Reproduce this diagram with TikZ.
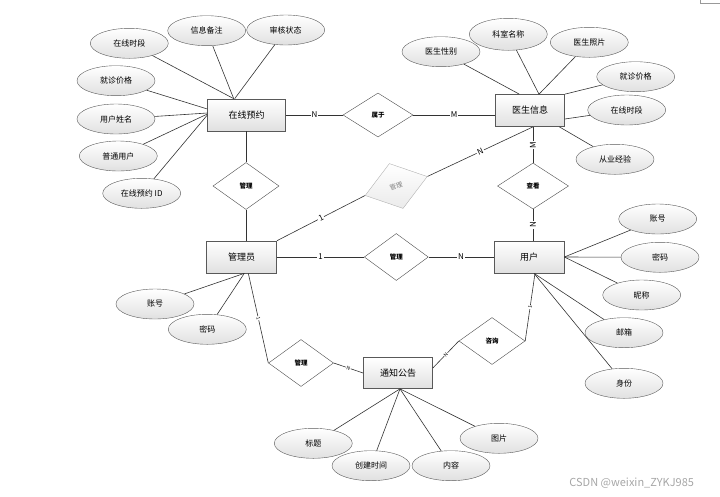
\documentclass[tikz,border=0pt]{standalone}
\usepackage{fontspec}
\setmainfont{Noto Sans CJK SC}
\usetikzlibrary{shapes.geometric}

\begin{document}
\begin{tikzpicture}[x=1pt, y=-1pt,
	every node/.style={font=\fontsize{8}{9}\selectfont},
	entity/.style={draw=black!65, line width=0.7pt, top color=white, bottom color=black!12, minimum width=70, minimum height=32, inner sep=0pt, font=\fontsize{9}{10}\selectfont},
	attr/.style={ellipse, draw=black!65, top color=white, bottom color=black!12, minimum width=78, minimum height=30, inner sep=0pt},
	rel/.style={diamond, draw=black!70, fill=white, minimum width=66, minimum height=47, inner sep=0pt, font=\fontsize{6.5}{7}\bfseries\selectfont},
	card/.style={fill=white, inner sep=1pt, font=\fontsize{8}{8}\selectfont},
	tcard/.style={fill=white, inner sep=0.5pt, font=\fontsize{5}{5}\selectfont},
	link/.style={draw=black!80, line width=0.6pt}]
	\useasboundingbox (0,0) rectangle (720,496);

	% entities
	\node[entity, minimum width=78] (yy) at (246.7,115) {在线预约};
	\node[entity, minimum width=69] (ys) at (530,110.5) {医生信息};
	\node[entity] (gly) at (241.7,257) {管理员};
	\node[entity] (yh) at (529,257) {用户};
	\node[entity, minimum width=69, minimum height=31] (tz) at (398,373) {通知公告};

	% relations
	\node[rel, minimum width=70, minimum height=44] (sy) at (378,115) {属于};
	\node[rel] (gl1) at (246,186) {管理};
	\node[rel, rotate=17, draw=black!30, top color=white, bottom color=black!8, text=black!50, font=\fontsize{6.5}{7}\selectfont, minimum width=65] (gl3) at (396.2,186) {管理};
	\node[rel, minimum width=64] (gl2) at (396.3,257) {管理};
	\node[rel, minimum width=71, minimum height=46] (ck) at (533,186) {查看};
	\node[rel, minimum width=65] (gl4) at (301,363) {管理};
	\node[rel] (zx) at (492,341) {咨询};

	% attributes
	\node[attr] (a1) at (129.3,43.3) {在线时段};
	\node[attr] (a2) at (206.7,30.7) {信息备注};
	\node[attr] (a3) at (285.7,30) {审核状态};
	\node[attr] (a4) at (116,80.7) {就诊价格};
	\node[attr] (a5) at (116,119) {用户姓名};
	\node[attr] (a6) at (118.3,156) {普通用户};
	\node[attr] (a7) at (141.7,193.3) {在线预约 ID};

	\node[attr] (b1) at (441,51.7) {医生性别};
	\node[attr, minimum height=32] (b2) at (508.3,34.3) {科室名称};
	\node[attr] (b3) at (589.3,42.3) {医生照片};
	\node[attr] (b4) at (635.7,76.7) {就诊价格};
	\node[attr] (b5) at (626.7,110) {在线时段};
	\node[attr] (b6) at (615,159.3) {从业经验};

	\node[attr] (c1) at (155,304) {账号};
	\node[attr] (c2) at (207.3,329.3) {密码};

	\node[attr] (d1) at (657.7,219) {账号};
	\node[attr] (d2) at (660,257.3) {密码};
	\node[attr] (d3) at (641.7,295) {昵称};
	\node[attr] (d4) at (624,332.7) {邮箱};
	\node[attr] (d5) at (624,383.3) {身份};

	\node[attr] (e1) at (313.3,443.3) {标题};
	\node[attr] (e2) at (371,465.7) {创建时间};
	\node[attr] (e3) at (451,465.7) {内容};
	\node[attr] (e4) at (499,438.3) {图片};

	% attribute lines
	\draw[link] (a1) -- ([xshift=-13pt]yy.north);
	\draw[link] (a2) -- ([xshift=-13pt]yy.north);
	\draw[link] (a3) -- ([xshift=-12pt]yy.north);
	\draw[link] (a4) -- ([yshift=6pt]yy.west);
	\draw[link] (a5) -- ([yshift=2pt]yy.west);
	\draw[link] (a6) -- ([yshift=1pt]yy.west);
	\draw[link] (a7) -- (yy.west);

	\draw[link] (b1) -- ([xshift=-10.7pt]ys.north);
	\draw[link] (b2) -- ([xshift=9pt]ys.north);
	\draw[link] (b3) -- ([xshift=9pt]ys.north);
	\draw[link] (b4) -- (ys.north east);
	\draw[link] (b5) -- ([yshift=-8.5pt]ys.east);
	\draw[link] (b6) -- ([xshift=-5.5pt]ys.south east);

	\draw[link] (c1) -- ([xshift=2.6pt]gly.south);
	\draw[link] (c2) -- ([xshift=2.6pt]gly.south);

	\draw[link] (d1) -- (yh.east);
	\draw[link] (d2) -- (yh.east);
	\draw[link] (d3) -- (yh.east);
	\draw[link] (d4) -- ([xshift=5pt]yh.south);
	\draw[link] (d5) -- ([xshift=5pt]yh.south);

	\draw[link] (e1) -- ([xshift=2pt]tz.south);
	\draw[link] (e2) -- ([xshift=2pt]tz.south);
	\draw[link] (e3) -- ([xshift=2pt]tz.south);
	\draw[link] (e4) -- ([xshift=2pt]tz.south);

	% relation lines
	\draw[link] (yy) -- (sy) node[card, midway] {N};
	\draw[link] (sy.east) -- (sy.east -| ys.west) node[card, midway] {M};
	\draw[link] (gl1.north) -- (gl1.north |- yy.south);
	\draw[link] (gl1.south) -- (gl1.south |- gly.north);
	\draw[link] (gly) -- (gl2) node[card, midway] {1};
	\draw[link] (gl2) -- (yh) node[card, midway] {N};
	\draw[link] (gly.north east) -- (gl3.west) node[card, midway, sloped] {1};
	\draw[link] (gl3.east) -- ([xshift=3pt]ys.south) node[card, midway, sloped] {N};
	\draw[link] (ck.north) -- (ck.north |- ys.south) node[card, midway, rotate=90] {M};
	\draw[link] (ck.south) -- (ck.south |- yh.north) node[card, midway, rotate=90] {N};
	\draw[link] ([xshift=6.6pt]gly.south) -- (gl4.west) node[tcard, midway, sloped] {1};
	\draw[link] (gl4.east) -- (tz.west) node[tcard, midway, sloped] {N};
	\draw[link] ([yshift=5pt]tz.east) -- (zx.west) node[tcard, midway, sloped] {N};
	\draw[link] (zx.east) -- ([xshift=6pt]yh.south) node[tcard, midway, sloped] {1};

	\node[text=black!35, font=\fontsize{11}{11}\selectfont] (wm) at (631.7,482.7) {CSDN @weixin\_ZYKJ985};
	\draw[black!40, line width=0.5pt] (700,0) -- (700,3) -- (720,3);
\end{tikzpicture}
\end{document}
